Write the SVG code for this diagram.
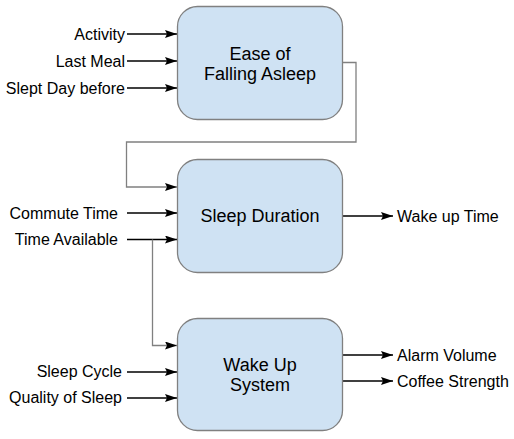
<svg xmlns="http://www.w3.org/2000/svg" width="514" height="439" viewBox="0 0 514 439">
<defs>
<marker id="ah" markerUnits="userSpaceOnUse" markerWidth="13" markerHeight="9" refX="12" refY="4" orient="auto">
<path d="M0,0 L12,4 L0,8 L2,4 z" fill="#000"/>
</marker>
<style>
.box{fill:#cfe2f3;stroke:#808080;stroke-width:1.3}
.t{font-family:"Liberation Sans",Arial,sans-serif;font-size:16px;fill:#000}
.bt{font-family:"Liberation Sans",Arial,sans-serif;font-size:18px;fill:#000;text-anchor:middle}
.r{text-anchor:end}
.in{stroke:#000;stroke-width:1.3;fill:none;marker-end:url(#ah)}
.g{stroke:#808080;stroke-width:1.3;fill:none;marker-end:url(#ah)}
</style>
</defs>
<rect width="514" height="439" fill="#fff"/>
<g id="connectors">
<path class="in" d="M127,34 H177"/>
<path class="in" d="M127,61 H177"/>
<path class="in" d="M127,88 H177"/>
<path class="g" d="M343,62.5 H356 V142 H126.5 V187 H177"/>
<path class="in" d="M127,213 H177"/>
<path class="in" d="M127,239.5 H177"/>
<path class="g" d="M152.5,239.5 V345.5 H177"/>
<path class="in" d="M343,216 H393"/>
<path class="in" d="M127,372 H177"/>
<path class="in" d="M127,398 H177"/>
<path class="in" d="M343,355 H393"/>
<path class="in" d="M343,381 H393"/>
</g>
<g id="ease">
<rect class="box" x="177.5" y="6.5" width="165" height="113" rx="20"/>
<text class="bt" x="260" y="59.5">Ease of</text>
<text class="bt" x="260" y="79.5">Falling Asleep</text>
</g>
<g id="duration">
<rect class="box" x="177.5" y="159.5" width="165" height="113" rx="20"/>
<text class="bt" x="260" y="221.5">Sleep Duration</text>
</g>
<g id="wakeup">
<rect class="box" x="177.5" y="318.5" width="165" height="112" rx="20"/>
<text class="bt" x="260" y="371">Wake Up</text>
<text class="bt" x="260" y="391">System</text>
</g>
<g id="labels">
<text class="t r" x="125" y="40">Activity</text>
<text class="t r" x="125" y="67">Last Meal</text>
<text class="t r" x="125" y="94">Slept Day before</text>
<text class="t r" x="118" y="218.5">Commute Time</text>
<text class="t r" x="118" y="245">Time Available</text>
<text class="t" x="397" y="221.5">Wake up Time</text>
<text class="t r" x="122" y="377">Sleep Cycle</text>
<text class="t r" x="122" y="403">Quality of Sleep</text>
<text class="t" x="397" y="361">Alarm Volume</text>
<text class="t" x="397" y="387">Coffee Strength</text>
</g>
</svg>
